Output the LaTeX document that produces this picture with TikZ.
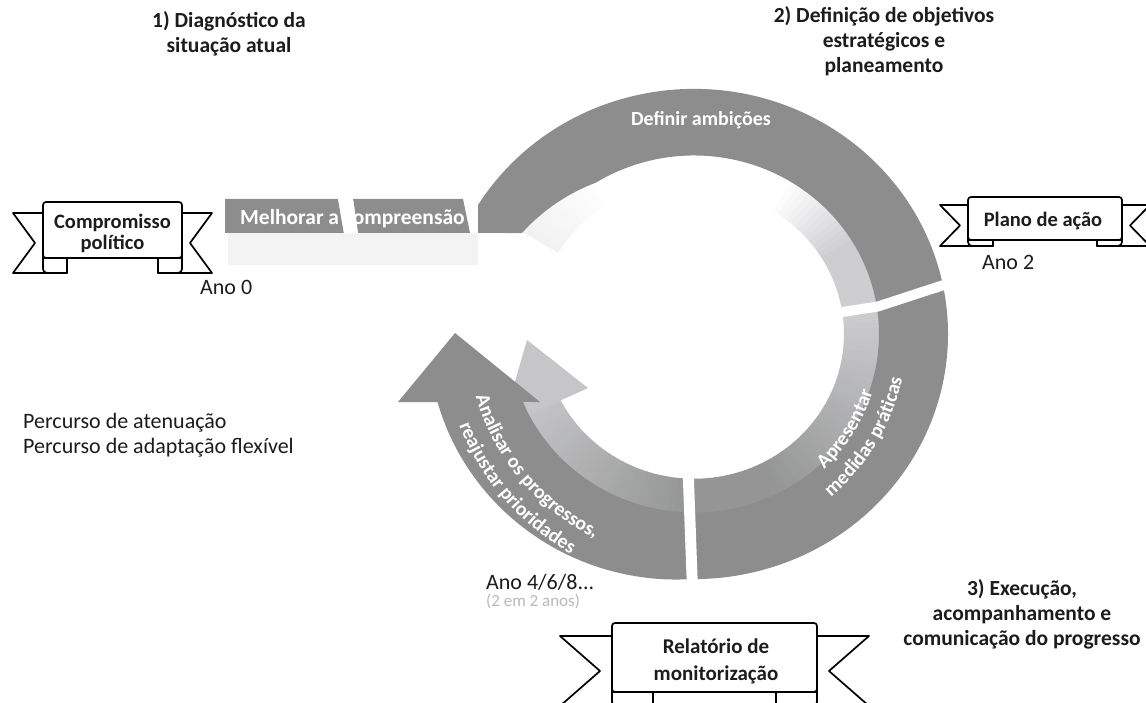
\documentclass[tikz,border=0pt]{standalone}
\usepackage{fontspec}
\setmainfont{Carlito}
\usetikzlibrary{decorations.text}
\definecolor{ringdark}{RGB}{140,141,140}
\definecolor{ringlight}{RGB}{206,206,209}
\definecolor{txt}{RGB}{28,28,28}
\tikzset{
  ribline/.style={draw=black, fill=white, line width=1.7pt, line join=round},
  head/.style={font=\bfseries\fontsize{21.5}{25}\selectfont, text=txt, align=center, inner sep=0},
  plain/.style={font=\fontsize{22}{25}\selectfont, text=txt, inner sep=0},
  ribtext/.style={font=\bfseries\fontsize{20.5}{21}\selectfont, text=txt, align=center, inner sep=0},
  gapline/.style={white, line width=10pt, line join=round},
  ringlabel/.style={font=\bfseries\fontsize{20}{24}\selectfont, text=white, align=center, inner sep=0},
  ringtext/.style={decorate, decoration={text along path, text align=center, text color=white, text={|\ringfont|#1}}}
}
\newcommand\ringfont{\bfseries\fontsize{20}{24}\selectfont}
% #1 xL #2 xR #3 box top #4 box bottom #5 tail top #6 tail bottom #7 tail length #8 notch depth #9 fold width
\newcommand{\drawribbon}[9]{%
  \filldraw[ribline] (#1,#5) -- ({#1-#7},#5) -- ({#1-#7+#8},{(#5+#6)/2}) -- ({#1-#7},#6) -- ({#1+#9},#6) -- ({#1+#9},#4) -- (#1,#4) -- cycle;
  \filldraw[ribline] (#2,#5) -- ({#2+#7},#5) -- ({#2+#7-#8},{(#5+#6)/2}) -- ({#2+#7},#6) -- ({#2-#9},#6) -- ({#2-#9},#4) -- (#2,#4) -- cycle;
  \filldraw[ribline] (#1,#4) -- (#1,{#6+4}) arc[start angle=180, end angle=270, radius=4] -- ({#1+#9},#6) -- ({#1+#9},#4) -- cycle;
  \filldraw[ribline] (#2,#4) -- (#2,{#6+4}) arc[start angle=0, end angle=-90, radius=4] -- ({#2-#9},#6) -- ({#2-#9},#4) -- cycle;
  \filldraw[ribline, rounded corners=3] (#1,#3) rectangle (#2,#4);
}
\begin{document}
\begin{tikzpicture}[x=1pt, y=1pt]
\useasboundingbox (0,0) rectangle (1146,703);
\clip (0,0) rectangle (1146,703);
\fill[white] (0,0) rectangle (1146,703);

% faint underside of the straight band
\fill[ringlight!25!white] (228,438) rectangle (478,470);

\begin{scope}[shift={(694,369)}, yscale=0.965]
  % faint patch at the start of the ring
  \foreach \ang in {124,126,...,146} {
    \pgfmathtruncatemacro\pp{4+(\ang-124)*1.0}
    \pgfmathsetmacro\bb{\ang+2.3}
    \fill[ringlight!\pp!white] (\ang:160) arc[start angle=\ang, end angle=\bb, radius=160] -- (\bb:206) arc[start angle=\bb, end angle=\ang, radius=206] -- cycle;
  }
  % light inner strip of the top arc
  \foreach \ang in {10,12,...,56} {
    \pgfmathtruncatemacro\pp{min(100,(58-\ang)*100/28)}
    \pgfmathsetmacro\bb{\ang+2.3}
    \fill[ringlight!\pp!white] (\ang:150) arc[start angle=\ang, end angle=\bb, radius=150] -- (\bb:185.5) arc[start angle=\bb, end angle=\ang, radius=185.5] -- cycle;
  }
  % inner band of the right arc
  \foreach \ang in {10,8,...,-88} {
    \pgfmathtruncatemacro\pp{max(12,100-(10-\ang)*1.2)}
    \pgfmathsetmacro\bb{\ang-2.3}
    \fill[ringlight!\pp!ringdark] (\ang:150) arc[start angle=\ang, end angle=\bb, radius=150] -- (\bb:185.5) arc[start angle=\bb, end angle=\ang, radius=185.5] -- cycle;
  }
  % inner band of the left arc
  \foreach \ang in {-90,-92,...,-154} {
    \pgfmathtruncatemacro\pp{min(88,12+(-90-\ang)*1.15)}
    \pgfmathsetmacro\bb{\ang-2.3}
    \fill[ringlight!\pp!ringdark] (\ang:150) arc[start angle=\ang, end angle=\bb, radius=150] -- (\bb:185.5) arc[start angle=\bb, end angle=\ang, radius=185.5] -- cycle;
  }
  % light arrow head
  \fill[ringlight!88!ringdark] (-106,-56) -- (-167,-6.2) -- (-192,-96) -- cycle;
  % dark top arc
  \fill[ringdark] (-216,104.7) -- (-216,133.6) arc[start angle=148.26, end angle=10, radius=254]
     -- (10:185) arc[start angle=10, end angle=122, radius=185]
     -- plot[domain=122:148.7, samples=15] (\x:{185+16.4*(\x-122)/26.7}) -- cycle;
  % dark right arc
  \fill[ringdark] (10:254) arc[start angle=10, end angle=-90.5, radius=254]
     -- (-90.5:185) arc[start angle=-90.5, end angle=10, radius=185] -- cycle;
  % dark left arc with arrow head
  \fill[ringdark] (-90.5:254) -- plot[domain=-90.5:-164.6, samples=40] (\x:{254+12*(1-(\x+164.6)*(\x+164.6)/5490.8)})
     -- (-296,-70.5) -- (-239,1) -- (-154,-70.5)
     -- (-157.62:185) arc[start angle=-157.62, end angle=-90.5, radius=185] -- cycle;
  % gaps
  \draw[gapline] (8.7:138) -- (8.8:186) -- (11.8:266);
  \draw[gapline, line width=11pt] (-92.5:138) -- (-90.3:268);
\end{scope}

% labels on the ring
\node[ringlabel, anchor=base] (definir) at (701,577) {Definir ambições};
\begin{scope}[shift={(694,369)}]
  \path[ringtext={Analisar os progressos,}] (160:227) arc[start angle=160, end angle=280, radius=227];
  \path[ringtext={reajustar prioridades}] (161:252) arc[start angle=161, end angle=281, radius=252];
  \path[ringtext={Apresentar}] (-92:188) arc[start angle=-92, end angle=28, radius=188];
  \path[ringtext={medidas práticas}] (-91:213) arc[start angle=-91, end angle=29, radius=213];
\end{scope}

% straight band
\fill[ringdark] (225,504) -- (338,504) -- (344,470) -- (225,470) -- cycle;
\fill[ringdark] (353,504) -- (463,504) -- (470,470) -- (358,470) -- cycle;
\node[anchor=base west, inner sep=0, text=white, font=\bfseries\fontsize{21.5}{25}\selectfont] (melhorar) at (240,478) {Melhorar a compreensão};
\fill[white] (338,504.5) -- (353,504.5) -- (358,469.5) -- (344,469.5) -- cycle;

% headings and labels
\node[head] (diag) at (229,669) {1) Diagnóstico da\\situação atual};
\node[head] (defin) at (884,662) {2) Definição de objetivos\\estratégicos e\\planeamento};
\node[head] (exec) at (1022,89) {3) Execução,\\acompanhamento e\\comunicação do progresso};
\node[plain, anchor=west, align=left] (percurso) at (23,268) {Percurso de atenuação\\Percurso de adaptação flexível};
\node[plain, anchor=base west] (ano0) at (200,408) {Ano 0};
\node[plain, anchor=base west] (ano2) at (982,433) {Ano 2};
\node[plain, anchor=base west] (ano4) at (486,113) {Ano 4/6/8...};
\node[anchor=base west, inner sep=0, text=gray!55, font=\fontsize{17}{20}\selectfont] (anos) at (486,96) {(2 em 2 anos)};

% ribbons
\drawribbon{43}{182}{501}{445}{490}{430}{30}{22}{24}
\node[ribtext] (compromisso) at (112.5,469.5) {Compromisso\\político};
\drawribbon{968}{1122}{506}{463}{498}{457}{28}{20}{25}
\node[ribtext, anchor=base] (plano) at (1043,476) {Plano de ação};
\drawribbon{612}{817}{80}{11}{67}{-3}{52}{40}{41}
\node[ribtext, font=\bfseries\fontsize{21}{27}\selectfont] (relatorio) at (716,42) {Relatório de\\monitorização};
\end{tikzpicture}
\end{document}
